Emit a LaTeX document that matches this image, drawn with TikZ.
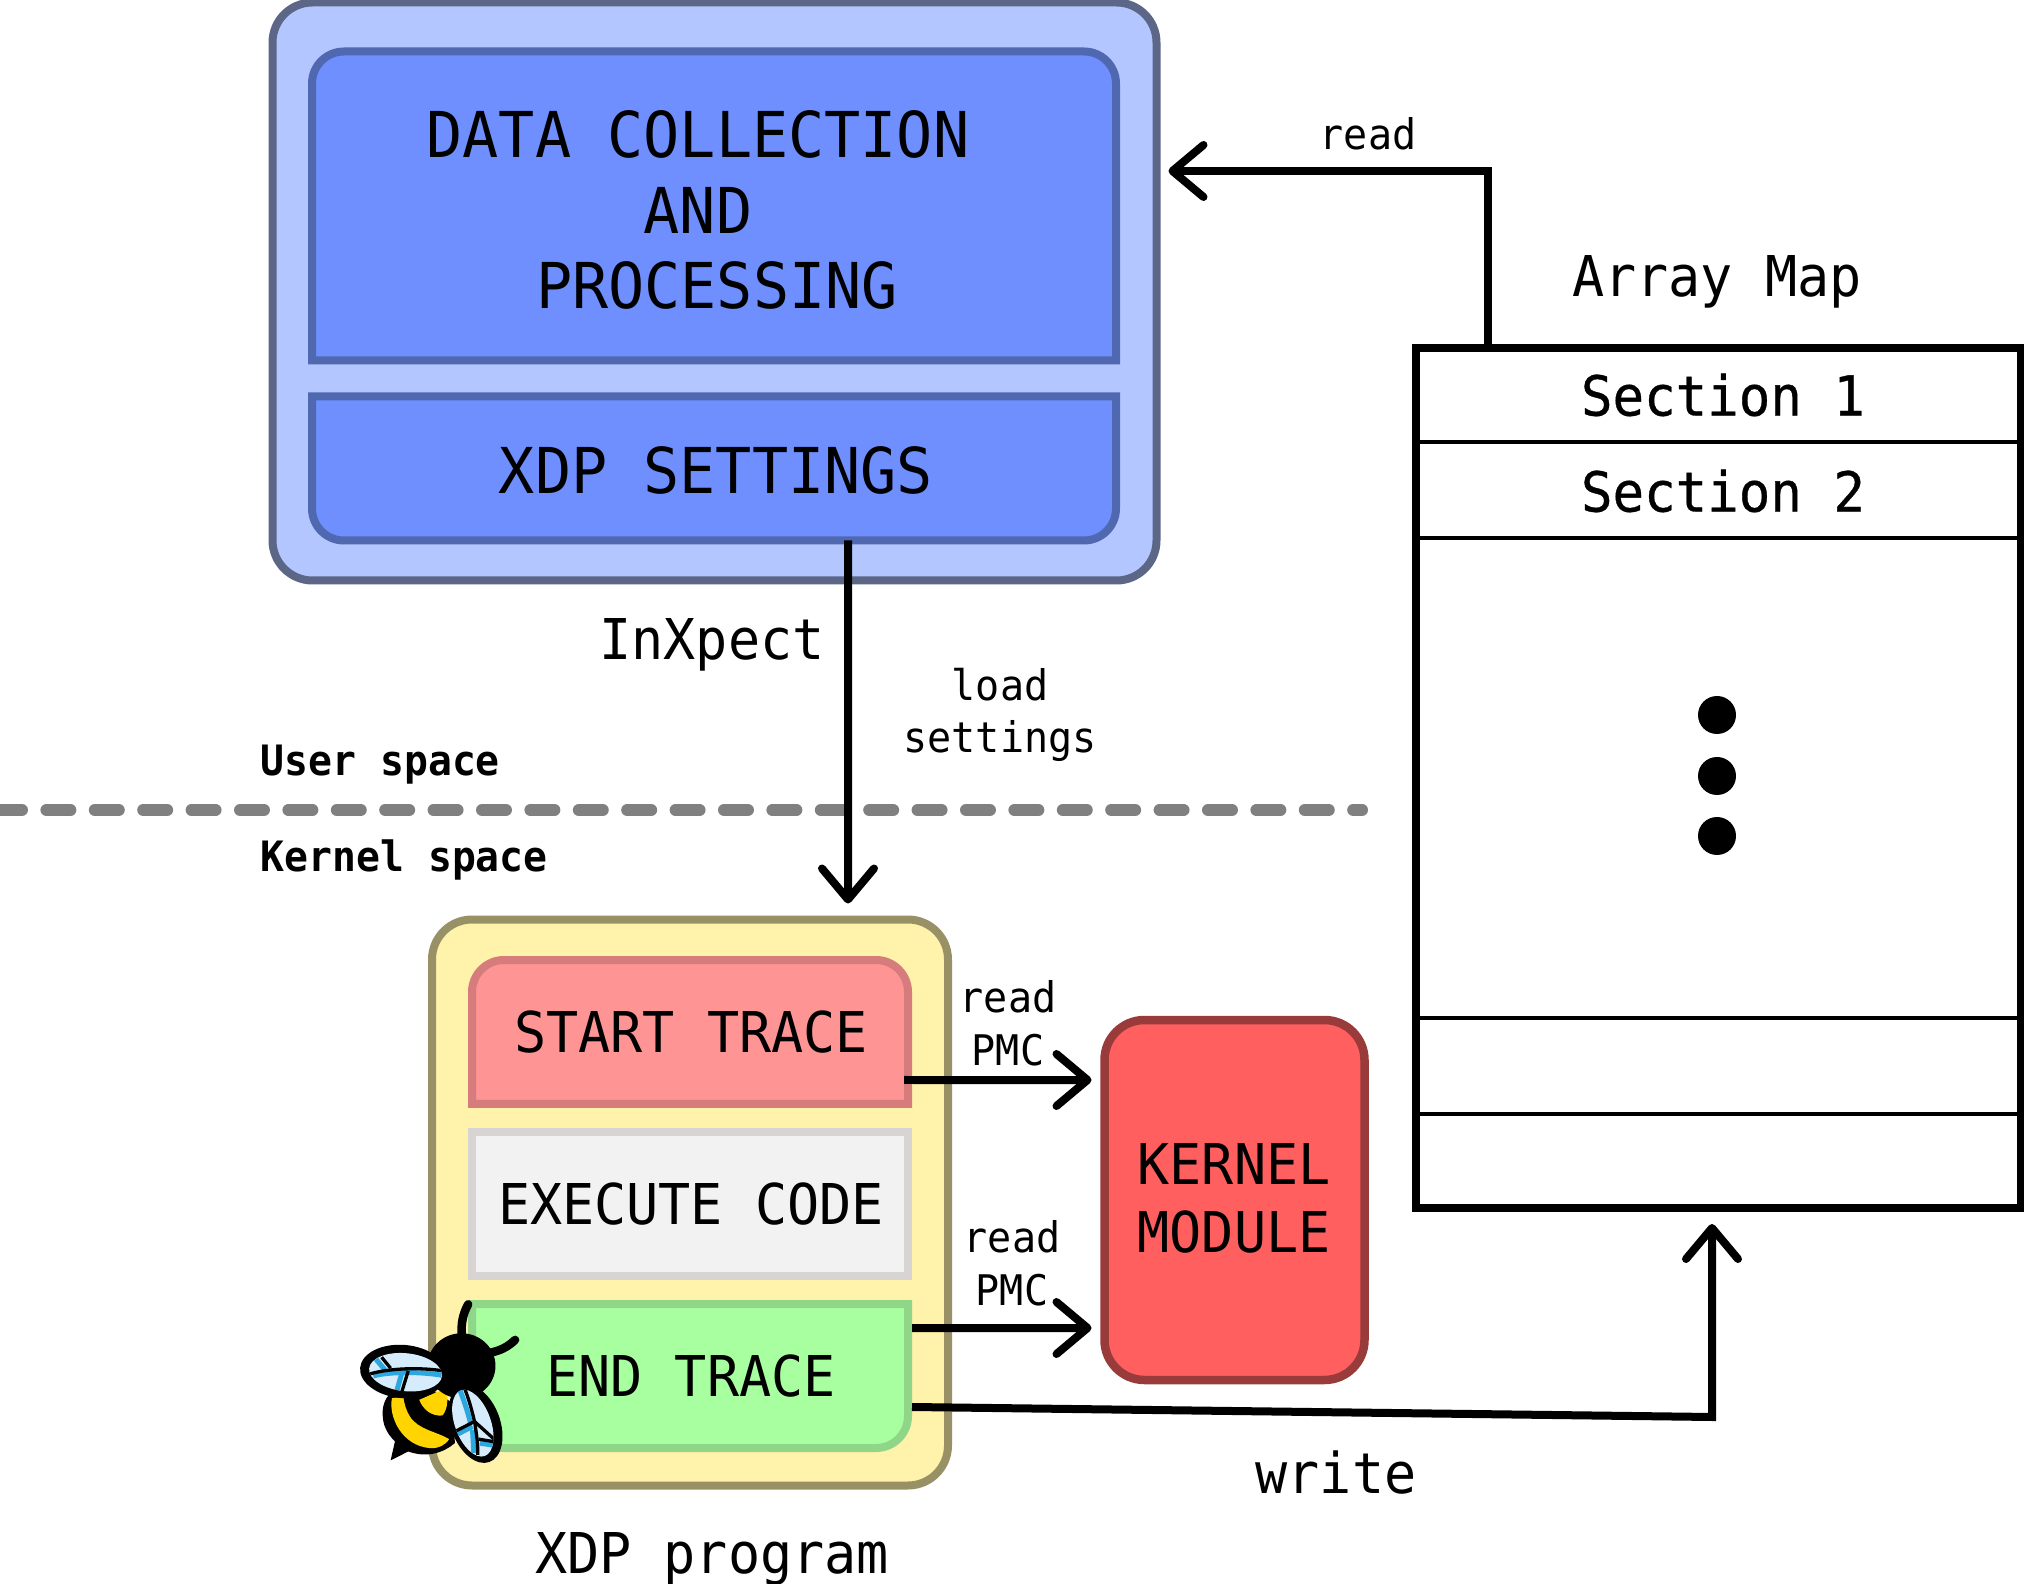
\documentclass[tikz,border=0pt]{standalone}
\usepackage{fontspec}
\setmonofont[FakeStretch=.95]{DejaVu Sans Mono}
\newfontfamily\sectionfont[FakeStretch=.95,FakeBold=.6]{DejaVu Sans Mono}
\usepackage{xcolor}
\usetikzlibrary{arrows.meta}
\definecolor{outerfill}{HTML}{B3C6FF}
\definecolor{outerline}{HTML}{5C6788}
\definecolor{innerfill}{HTML}{6F8FFF}
\definecolor{innerline}{HTML}{4F68AF}
\definecolor{xdpfill}{HTML}{FFF2AB}
\definecolor{xdpline}{HTML}{999166}
\definecolor{startfill}{HTML}{FF9494}
\definecolor{startline}{HTML}{D67C7C}
\definecolor{execfill}{HTML}{F2F2F2}
\definecolor{execline}{HTML}{D9D4D4}
\definecolor{endfill}{HTML}{A8FFA0}
\definecolor{endline}{HTML}{8FD688}
\definecolor{kernfill}{HTML}{FF5F5F}
\definecolor{kernline}{HTML}{993B3B}
\definecolor{wingfill}{HTML}{D6EBFB}
\definecolor{wingvein}{HTML}{2CA7E0}
\definecolor{beeyellow}{HTML}{FFD400}
\tikzset{
  bigtxt/.style={font=\ttfamily\fontsize{18}{20}\selectfont,inner sep=0pt},
  midtxt/.style={font=\ttfamily\fontsize{16}{19.3}\selectfont,inner sep=0pt,align=center},
  sectxt/.style={font=\sectionfont\fontsize{15.7}{19.3}\selectfont,inner sep=0pt},
  smalltxt/.style={font=\ttfamily\fontsize{12}{15}\selectfont,inner sep=0pt,align=center},
  spacetxt/.style={font=\ttfamily\bfseries\fontsize{11.9}{15}\selectfont,inner sep=0pt},
  slot/.style={rectangle,outer sep=0pt,inner sep=0pt},
  flow/.style={line width=.8mm,-{Straight Barb[length=3.1mm,width=5.2mm,line width=.8mm,round]}},
  veinblk/.style={line width=.33mm,draw=black},
  veinblu/.style={line width=.5mm,draw=wingvein},
}
\newcommand{\toprounded}[3]{\draw[draw=#2,fill=#3,line width=.8mm] (#1.south west) [rounded corners=3.2mm] -- (#1.north west) -- (#1.north east) [sharp corners] -- (#1.south east) -- cycle;}
\newcommand{\botrounded}[3]{\draw[draw=#2,fill=#3,line width=.8mm] (#1.north west) [rounded corners=3.2mm] -- (#1.south west) -- (#1.south east) [sharp corners] -- (#1.north east) -- cycle;}
\begin{document}
\begin{tikzpicture}[x=.1mm,y=-.1mm]
   \useasboundingbox (0,0) rectangle (2024,1584);
   % InXpect
   \node[slot,draw=outerline,fill=outerfill,line width=.8mm,rounded corners=4mm,minimum width=88.4mm,minimum height=57.8mm] (inxpectbox) at (714.5,291.5) {};
   \node[slot,minimum width=80.4mm,minimum height=30.9mm] (databox) at (714,206) {};
   \node[slot,minimum width=80.4mm,minimum height=14.4mm] (settingsbox) at (714,468.5) {};
   \toprounded{databox}{innerline}{innerfill}
   \botrounded{settingsbox}{innerline}{innerfill}
   \node[bigtxt] (dataline) at (698,134) {DATA COLLECTION};
   \node[bigtxt] (andline) at (698,210) {AND};
   \node[bigtxt] (procline) at (717,285.5) {PROCESSING};
   \node[bigtxt] (settingsline) at (716,470) {XDP SETTINGS};
   \node[midtxt] (inxpect) at (712,645) {InXpect};
   % user and kernel space
   \coordinate (dashstart) at (-2,810);
   \coordinate (dashend) at (1362,810);
   \draw[draw=gray,line width=1.2mm,line cap=round,dash pattern=on 2.4mm off 2.44mm] (dashstart) -- (dashend);
   \node[spacetxt,anchor=west] (userspace) at (260,765) {User space};
   \node[spacetxt,anchor=west] (kernelspace) at (260,860) {Kernel space};
   % XDP program
   \node[slot,draw=xdpline,fill=xdpfill,line width=.8mm,rounded corners=4mm,minimum width=51.6mm,minimum height=56.6mm] (xdpbox) at (690,1202.5) {};
   \node[slot,minimum width=43.6mm,minimum height=14.4mm] (startbox) at (690,1032) {};
   \node[slot,draw=execline,fill=execfill,line width=.8mm,minimum width=43.6mm,minimum height=14.4mm] (execbox) at (690,1204) {};
   \node[slot,minimum width=43.6mm,minimum height=14.4mm] (endbox) at (690,1376) {};
   \toprounded{startbox}{startline}{startfill}
   \botrounded{endbox}{endline}{endfill}
   \node[midtxt] (startline) at (691,1032) {START TRACE};
   \node[midtxt] (execline) at (691,1204) {EXECUTE CODE};
   \node[midtxt] (endline) at (691,1376) {END TRACE};
   \node[midtxt] (xdpprog) at (712,1559) {XDP program};
   % kernel module
   \node[slot,draw=kernline,fill=kernfill,line width=.85mm,rounded corners=4mm,minimum width=26mm,minimum height=36mm] (kernbox) at (1234.5,1200) {};
   \node[midtxt] (kernline) at (1234,1198) {KERNEL\\MODULE};
   % array map
   \node[slot,draw,line width=.8mm,minimum width=60.5mm,minimum height=86mm] (arraybox) at (1718.5,778) {};
   \node[slot,minimum width=60.5mm,minimum height=9.4mm] (sec1) at (1718.5,395) {};
   \node[slot,minimum width=60.5mm,minimum height=9.6mm] (sec2) at (1718.5,490) {};
   \node[slot,minimum width=60.5mm,minimum height=9.6mm] (slotb) at (1718.5,1066) {};
   \draw[line width=.4mm] (sec1.south west) -- (sec1.south east);
   \draw[line width=.4mm] (sec2.south west) -- (sec2.south east);
   \draw[line width=.4mm] (slotb.north west) -- (slotb.north east);
   \draw[line width=.4mm] (slotb.south west) -- (slotb.south east);
   \node[sectxt] (sec1txt) at (1723,395) {Section 1};
   \node[sectxt] (sec2txt) at (1723,491) {Section 2};
   \node[midtxt] (arraytxt) at (1717,282) {Array Map};
   \foreach \dy in {715,776,836} {
      \fill (1717,\dy) circle (1.9mm);
   }
   % connectors
   \coordinate (readcorner) at (1488,171);
   \draw[flow] (readcorner |- arraybox.north) -- (readcorner) -- ([xshift=1.2mm]readcorner -| inxpectbox.east);
   \node[smalltxt] (readtop) at (1368,134) {read};
   \draw[flow,shorten >=1.6mm] ([xshift=13.4mm]settingsbox.south) -- ([xshift=15.8mm]xdpbox.north);
   \node[smalltxt] (loadtxt) at (1000,715) {load\\settings};
   \draw[flow,shorten >=1.3mm] ([xshift=-.4mm,yshift=-4.8mm]startbox.east) -- ([yshift=12mm]kernbox.west);
   \node[smalltxt] (pmctop) at (1008,1023) {read\\PMC};
   \draw[flow,shorten >=1.3mm] ([xshift=.4mm,yshift=4.8mm]endbox.east) -- ([yshift=-12.8mm]kernbox.west);
   \node[smalltxt] (pmcbot) at (1012,1263) {read\\PMC};
   \coordinate (writecorner) at (1712,1417);
   \draw[flow,shorten >=1.6mm] ([xshift=.4mm,yshift=-3.1mm]endbox.east) -- (writecorner) -- (writecorner |- arraybox.south);
   \node[midtxt] (writetxt) at (1336,1473) {write};
   % bee
   \begin{scope}[shift={(340,1270)},x=.0333mm,y=-.0333mm]
      \draw[line width=.85mm,line cap=round] (366,205) .. controls (362,160) and (370,130) .. (385,103);
      \draw[line width=.85mm,line cap=round] (440,250) .. controls (480,245) and (505,230) .. (526,210);
      \fill (128,430) .. controls (128,375) and (170,340) .. (240,340) -- (340,400) -- (345,520)
         .. controls (310,550) and (260,565) .. (205,545) -- (152,572) -- (165,515)
         .. controls (140,490) and (128,465) .. (128,430) -- cycle;
      \fill[beeyellow] (156,385) .. controls (145,440) and (185,528) .. (270,535) .. controls (295,537) and (315,527) .. (328,508)
         .. controls (290,485) and (235,480) .. (210,440) .. controls (200,425) and (192,400) .. (190,380) -- cycle;
      \fill[beeyellow] (238,390) -- (318,355) .. controls (325,385) and (325,415) .. (308,437)
         .. controls (275,440) and (250,420) .. (238,390) -- cycle;
      \fill (365,288) circle [x radius=102,y radius=98];
      % upper wing
      \fill[rotate around={-5:(190,305)}] (190,305) circle [x radius=130,y radius=80];
      \begin{scope}
         \clip[rotate around={-6:(197,307)}] (197,307) circle [x radius=110,y radius=57];
         \fill[wingfill] (80,240) rectangle (320,380);
         \draw[veinblu] (100,318) .. controls (150,305) and (240,305) .. (305,316);
         \draw[veinblu] (108,268) -- (135,300);
         \draw[veinblu] (185,312) -- (170,365);
         \draw[veinblk] (90,312) .. controls (150,295) and (240,292) .. (310,303);
         \draw[veinblk] (125,262) -- (152,295);
         \draw[veinblk] (205,303) -- (185,368);
      \end{scope}
      % lower wing
      \fill[rotate around={-70:(407,462)}] (407,462) circle [x radius=122,y radius=74];
      \begin{scope}
         \clip[rotate around={-70:(399,460)}] (399,460) circle [x radius=105,y radius=54];
         \fill[wingfill] (320,340) rectangle (480,570);
         \draw[veinblu] (360,360) .. controls (375,400) and (385,430) .. (392,460);
         \draw[veinblu] (345,497) -- (398,470);
         \draw[veinblu] (398,480) -- (402,550);
         \draw[veinblu] (420,520) -- (465,527);
         \draw[veinblk] (372,350) .. controls (390,395) and (398,430) .. (404,455);
         \draw[veinblk] (404,455) -- (465,510);
         \draw[veinblk] (340,488) -- (404,455);
         \draw[veinblk] (404,455) .. controls (410,490) and (414,520) .. (414,555);
         \draw[veinblk] (416,508) -- (465,516);
      \end{scope}
   \end{scope}
\end{tikzpicture}
\end{document}
